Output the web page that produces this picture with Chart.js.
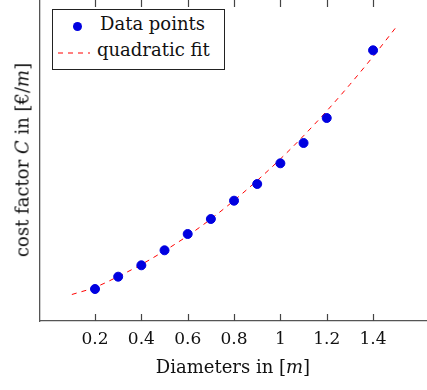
<!DOCTYPE html>
<html>
<head>
    <title>Cost factor vs diameter</title>
    <style>
        body {
            margin: 0;
            padding: 0;
            background: #ffffff;
            width: 427px;
            height: 390px;
            overflow: hidden;
            position: relative;
            font-family: "DejaVu Serif", serif;
            color: #111;
        }
        #costChart {
            position: absolute;
            left: 0;
            top: -2px;
        }
        .legend {
            position: absolute;
            left: 52px;
            top: 9px;
            width: 171px;
            height: 59px;
            border: 1px solid #222;
            background: #fff;
            font-size: 18px;
        }
        .legend .row {
            position: absolute;
            left: 0;
            white-space: nowrap;
        }
        .dot {
            position: absolute;
            width: 9px;
            height: 9px;
            border-radius: 50%;
            background: #0000e0;
        }
        .xtitle {
            position: absolute;
            left: 0;
            width: 466px;
            top: 356px;
            text-align: center;
            font-size: 18px;
        }
        .ytitle {
            position: absolute;
            left: 22px;
            top: 160px;
            transform: translate(-50%, -50%) rotate(-90deg);
            white-space: nowrap;
            font-size: 18px;
        }
    </style>
    <script src="https://cdn.jsdelivr.net/npm/chart.js"></script>
</head>
<body>
    <canvas id="costChart" width="431" height="393"></canvas>

    <div class="legend">
        <div class="dot" style="left: 20px; top: 12px;"></div>
        <div class="row" style="left: 47px; top: 3px;">Data points</div>
        <svg style="position:absolute; left:5px; top:41px;" width="32" height="4">
            <line x1="0" y1="2" x2="32" y2="2" stroke="#ff0000" stroke-width="1" stroke-dasharray="5 5"/>
        </svg>
        <div class="row" style="left: 44px; top: 29px;">quadratic fit</div>
    </div>

    <div class="xtitle">Diameters in [<i>m</i>]</div>
    <div class="ytitle">cost factor <i>C</i> in [€/<i>m</i>]</div>

    <script>
        // measured points
        const diameters = [0.2, 0.3, 0.4, 0.5, 0.6, 0.7, 0.8, 0.9, 1.0, 1.1, 1.2, 1.4];
        const costs = [3.20, 4.43, 5.57, 7.07, 8.70, 10.20, 12.03, 13.70, 15.77, 17.80, 20.30, 27.07];

        // fitted curve
        const fitX = [0.1, 0.2, 0.3, 0.4, 0.5, 0.6, 0.7, 0.8, 0.9, 1.0, 1.1, 1.2, 1.3, 1.4, 1.5];
        const fitY = [2.65, 3.37, 4.45, 5.65, 7.02, 8.52, 10.2, 12.05, 14.05, 16.2, 18.52, 21.0, 23.65, 26.45, 29.4];

        const xTicks = [0.2, 0.4, 0.6, 0.8, 1.0, 1.2, 1.4];

        const axisColor = '#555';

        // pgfplots style ticks pointing inward, top and bottom
        // (grid ticks get clipped to the scale box, so draw them here)
        const innerTicks = {
            id: 'innerTicks',
            afterDraw(chart) {
                const c = chart.ctx;
                const area = chart.chartArea;
                const x = chart.scales.x;
                c.save();
                c.strokeStyle = '#444';
                c.lineWidth = 1.2;
                xTicks.forEach(v => {
                    const px = Math.round(x.getPixelForValue(v)) + 0.5;
                    c.beginPath();
                    c.moveTo(px, area.bottom);
                    c.lineTo(px, area.bottom - 7);
                    c.moveTo(px, area.top);
                    c.lineTo(px, area.top + 8);
                    c.stroke();
                });
                c.restore();
            }
        };

        const ctx = document.getElementById('costChart').getContext('2d');
        new Chart(ctx, {
            type: 'scatter',
            data: {
                datasets: [{
                    label: 'Data points',
                    data: diameters.map((d, i) => ({ x: d, y: costs[i] })),
                    backgroundColor: '#0000e0',
                    borderColor: '#0000e0',
                    pointRadius: 4.5,
                    pointHoverRadius: 4.5,
                    order: 1
                }, {
                    label: 'quadratic fit',
                    type: 'line',
                    data: fitX.map((d, i) => ({ x: d, y: fitY[i] })),
                    borderColor: '#ff0000',
                    borderWidth: 1,
                    borderDash: [5, 5],
                    pointRadius: 0,
                    fill: false,
                    cubicInterpolationMode: 'monotone',
                    order: 2
                }]
            },
            options: {
                responsive: false,
                animation: false,
                layout: { autoPadding: false, padding: { left: 40, top: 1, right: 0, bottom: 0 } },
                plugins: {
                    legend: { display: false },
                    tooltip: { enabled: false }
                },
                scales: {
                    x: {
                        type: 'linear',
                        min: -0.0374,
                        max: 1.650,
                        afterBuildTicks: (scale) => {
                            scale.ticks = xTicks.map(v => ({ value: v }));
                        },
                        afterFit: (scale) => { scale.height = 70; },
                        grid: { display: true, drawOnChartArea: false, drawTicks: false },
                        border: { display: true, color: axisColor, width: 1.3 },
                        ticks: {
                            padding: 8,
                            color: '#111',
                            font: { family: 'DejaVu Serif', size: 17 },
                            maxRotation: 0,
                            callback: (v) => String(Math.round(v * 10) / 10)
                        }
                    },
                    y: {
                        type: 'linear',
                        min: 0,
                        max: 32.2,
                        afterFit: (scale) => { scale.width = 0; },
                        grid: { display: true, drawOnChartArea: false, drawTicks: false },
                        border: { display: true, color: axisColor, width: 1.3 },
                        ticks: { display: false }
                    }
                }
            },
            plugins: [innerTicks]
        });
    </script>
</body>
</html>
